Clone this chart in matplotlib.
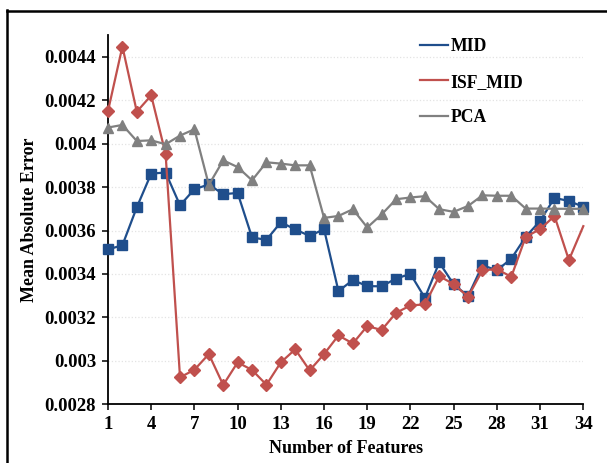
import matplotlib
matplotlib.use("Agg")
import matplotlib.pyplot as plt
from matplotlib.lines import Line2D
from matplotlib.ticker import FuncFormatter

features = list(range(1, 35))

mid = [0.003513, 0.003532, 0.003707, 0.003862, 0.003867, 0.003716, 0.003790, 0.003812,
       0.003767, 0.003773, 0.003568, 0.003557, 0.003638, 0.003605, 0.003575, 0.003606,
       0.003321, 0.003372, 0.003344, 0.003343, 0.003379, 0.003400, 0.003290, 0.003453,
       0.003352, 0.003298, 0.003440, 0.003417, 0.003470, 0.003571, 0.003644, 0.003750,
       0.003736, 0.003709]

isf_mid = [0.004150, 0.004447, 0.004147, 0.004222, 0.003952, 0.002924, 0.002959, 0.003031,
           0.002889, 0.002993, 0.002958, 0.002890, 0.002993, 0.003053, 0.002956, 0.003031,
           0.003117, 0.003080, 0.003160, 0.003142, 0.003221, 0.003255, 0.003260, 0.003390,
           0.003353, 0.003295, 0.003417, 0.003422, 0.003387, 0.003571, 0.003606, 0.003667,
           0.003464, 0.003620]

pca = [0.004074, 0.004086, 0.004012, 0.004015, 0.003997, 0.004037, 0.004066, 0.003810,
       0.003923, 0.003892, 0.003831, 0.003914, 0.003908, 0.003900, 0.003900, 0.003658,
       0.003667, 0.003698, 0.003614, 0.003674, 0.003744, 0.003752, 0.003758, 0.003698,
       0.003686, 0.003713, 0.003762, 0.003760, 0.003760, 0.003701, 0.003701, 0.003700,
       0.003700, 0.003700]

series_names = ["MID", "ISF_MID", "PCA"]
x_ticks = list(range(1, 35, 3))
y_ticks = [0.0028, 0.0030, 0.0032, 0.0034, 0.0036, 0.0038, 0.0040, 0.0042, 0.0044]

plt.rcParams['font.family'] = ['Liberation Serif', 'DejaVu Serif']
plt.rcParams['font.weight'] = 'bold'

fig = plt.figure(figsize=(6.07, 4.63), dpi=100)
ax = fig.add_axes([108 / 607, (463 - 404.3) / 463, (583.3 - 108) / 607, (404.3 - 35) / 463])

blue = '#1F4E8C'
red = '#C0504D'
gray = '#808080'

ax.plot(features, mid, color=blue, lw=1.6, marker='s', ms=6.5, mfc=blue, mec=blue,
        label=series_names[0], zorder=3, clip_on=False)
ax.plot(features, isf_mid, color=red, lw=1.6, marker='D', ms=6.5, mfc=red, mec=red,
        markevery=list(range(33)), label=series_names[1], zorder=4, clip_on=False)
ax.plot(features, pca, color=gray, lw=1.6, marker='^', ms=7.5, mfc=gray, mec=gray,
        label=series_names[2], zorder=5, clip_on=False)

ax.set_xlim(1, 34)
ax.set_ylim(0.0028, 0.0045)
ax.set_xticks(x_ticks)
ax.set_yticks(y_ticks)
ax.yaxis.set_major_formatter(FuncFormatter(lambda v, p: f"{v:g}"))
ax.tick_params(axis='both', labelsize=13.5, direction='out', length=4.5, width=1.1, pad=4)
for lab in ax.get_xticklabels() + ax.get_yticklabels():
    lab.set_fontweight('bold')

ax.spines['top'].set_visible(False)
ax.spines['right'].set_visible(False)
ax.spines['left'].set_linewidth(1.3)
ax.spines['bottom'].set_linewidth(1.3)
ax.yaxis.grid(True, linestyle=':', color='#E3E3E3', lw=0.9)
ax.set_axisbelow(True)

ax.set_xlabel("Number of Features", fontsize=13, fontweight='bold', labelpad=5)
ax.set_ylabel("Mean Absolute Error", fontsize=13, fontweight='bold', labelpad=5)

handles = [Line2D([0], [0], color=c, lw=1.6) for c in (blue, red, gray)]
leg = ax.legend(handles, series_names, loc='upper left', bbox_to_anchor=(0.63, 1.025),
                frameon=False, prop={'family': 'Liberation Serif', 'weight': 'bold', 'size': 12.7},
                handlelength=1.6, handletextpad=0.15, labelspacing=1.05, borderaxespad=0.3)

# outer frame lines (left and top)
fig.add_artist(Line2D([7 / 607, 7 / 607], [0, 1 - 10 / 463], color='black', lw=1.8,
                      transform=fig.transFigure))
fig.add_artist(Line2D([7 / 607, 1], [1 - 11 / 463, 1 - 11 / 463], color='black', lw=1.8,
                      transform=fig.transFigure))

fig.savefig("out.png", dpi=100)
